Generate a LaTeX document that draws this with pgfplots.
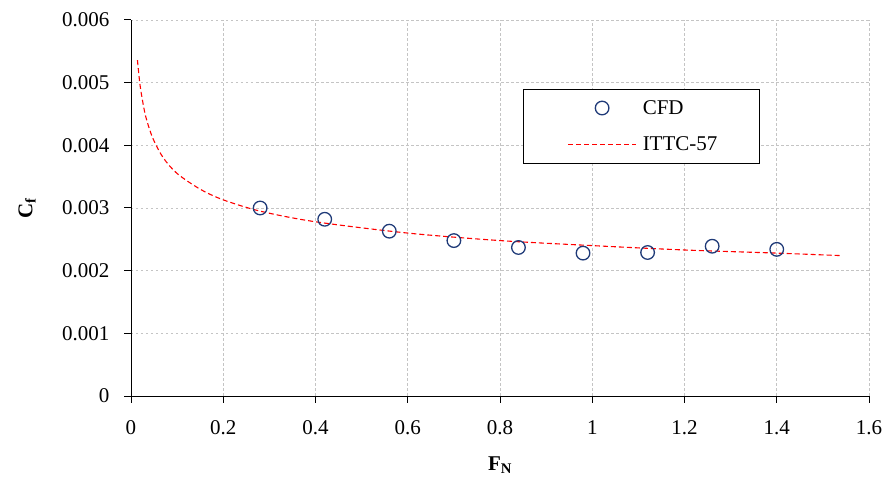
\documentclass[border=0pt]{standalone}
\usepackage{fontspec}
\setmainfont{Liberation Serif}
\usepackage{pgfplots}
\pgfplotsset{compat=1.18}
\definecolor{cfdblue}{HTML}{1F3A78}
\definecolor{gridgray}{HTML}{C4C4C4}
\pgfplotsset{
  cfdleg/.style={legend image code/.code={\draw[##1] plot coordinates {(34bp,0)};\path (-40bp,0) (72bp,0);}},
  ittcleg/.style={legend image code/.code={\draw[##1] (0,0) -- (68bp,0);\path (-40bp,0) (72bp,0);}},
}

\begin{document}
\begin{tikzpicture}
\begin{axis}[
  scale only axis, width=738bp, height=376bp,
  xmin=0, xmax=1.6, ymin=0, ymax=0.006,
  axis x line=bottom, axis y line=left,
  axis line style={-, line width=1pt, black},
  tick align=outside, major tick length=7bp,
  tick style={line width=1pt, black},
  xtick={0,0.2,...,1.6},
  ytick={0,0.001,...,0.006},
  scaled y ticks=false,
  yticklabel style={/pgf/number format/.cd, fixed, precision=3, /tikz/.cd, xshift=-11bp},
  xticklabel style={/pgf/number format/.cd, fixed, precision=1, /tikz/.cd, yshift=-14bp},
  /pgf/number format/assume math mode=true,
  ticklabel style={font=\fontsize{21bp}{24bp}\selectfont},
  grid=major,
  major grid style={gridgray, dash pattern=on 2.5bp off 2.5bp, line width=0.8pt},
  xlabel={\textbf{F\textsubscript{N}}},
  ylabel={\textbf{C\textsubscript{f}}},
  label style={font=\fontsize{21bp}{24bp}\selectfont},
  xlabel style={at={(axis description cs:0.5,-0.1835)}, anchor=center},
  ylabel style={at={(axis description cs:-0.141,0.5)}, anchor=center},
  legend style={at={(axis cs:0.85,0.0049)}, anchor=north west, draw=black, line width=0.8pt,
    font=\fontsize{21bp}{24bp}\selectfont, inner xsep=4bp, inner ysep=9bp,
    row sep=17bp},
  legend cell align=left,
]
\addplot[only marks, mark=o, mark size=6.8bp, cfdblue, line width=1.3pt, cfdleg]
  coordinates {(0.28,0.00300) (0.42,0.00282) (0.56,0.00263) (0.70,0.00248) (0.84,0.00237)
    (0.98,0.00228) (1.12,0.00229) (1.26,0.00239) (1.40,0.00234)};
\addlegendentry{CFD}
\addplot[red, dash pattern=on 5bp off 3bp, line width=1.1pt, smooth, ittcleg]
  coordinates {(0.014,0.00536) (0.02,0.00494) (0.03,0.00452) (0.04,0.00426) (0.05,0.00407)
    (0.07,0.00380) (0.10,0.00355) (0.15,0.00330) (0.20,0.00313) (0.28,0.00295)
    (0.40,0.00278) (0.60,0.00260) (0.80,0.00248) (1.00,0.00240) (1.20,0.00233)
    (1.40,0.00228) (1.54,0.00224)};
\addlegendentry{ITTC-57\rule{36bp}{0pt}}
\end{axis}
\path (current axis.south west) ++(-131bp,-80bp) coordinate (bbsw);
\path (current axis.north east) ++(20bp,20bp) coordinate (bbne);
\useasboundingbox (bbsw) rectangle (bbne);
\end{tikzpicture}
\end{document}
